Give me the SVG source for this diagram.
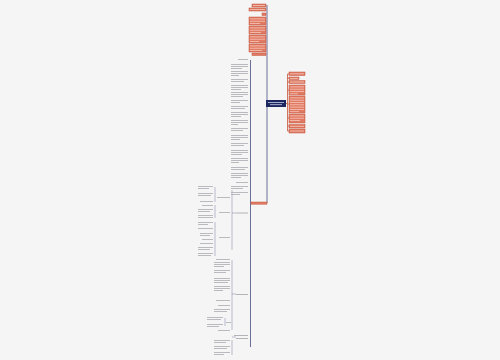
<svg xmlns="http://www.w3.org/2000/svg" width="500" height="360" viewBox="0 0 500 360">
<style>
.bg{fill:#f5f5f5}
.sal{fill:#e07a63;stroke:#c4563f;stroke-width:0.5}
.st{fill:#f7c6b8}
.tx{fill:#b4b4b8}
.wt{fill:#c9cde6}
.con{fill:none;stroke:#6c7099;stroke-width:1}
.conr{fill:none;stroke:#c4563f;stroke-width:0.8}
.cont{fill:none;stroke:#8e92b0;stroke-width:0.6}
</style>
<rect class="bg" x="0" y="0" width="500" height="360"/>
<g id="connectors">
<path class="con" d="M267 100 V5 M267 107 V203"/>
<path class="conr" d="M286 103.5 H287.5 M287.5 74 V131 M287.5 74 H289 M287.5 78 H289 M287.5 82 H289 M287.5 90 H289 M287.5 104 H289 M287.5 118 H289 M287.5 126 H289 M287.5 131 H289"/>
<path class="con" d="M250.5 60 V347 M250.5 203 H251"/>
<path class="cont" d="M232 190 V250 M232 213 H236 M215 187 V202 M215 205 V218 M215 222 V256"/>
<path class="cont" d="M232 260 V330 M232 294 H236 M225 318 V326"/>
<path class="cont" d="M232 340 V355 M232 337 H236"/>
</g>
<g id="center">
<rect x="266" y="100" width="20" height="7" fill="#1e2660"/>
<rect class="wt" x="268" y="102" width="16" height="0.8"/>
<rect class="wt" x="270" y="104.3" width="12" height="0.8"/>
</g>
<g id="right-nodes">
<g id="r1"><rect class="sal" x="289" y="72" width="16" height="3.5"/><rect class="st" x="290" y="73.4" width="14" height="0.8"/></g>
<g id="r2"><rect class="sal" x="289" y="77" width="10" height="2.5"/><rect class="st" x="290" y="77.9" width="8" height="0.8"/></g>
<g id="r3"><rect class="sal" x="289" y="80.5" width="16" height="3"/><rect class="st" x="290" y="81.6" width="14" height="0.8"/></g>
<g id="r4"><rect class="sal" x="289" y="85" width="16" height="10"/><rect class="st" x="290" y="86.5" width="14" height="0.8"/><rect class="st" x="290" y="88.8" width="14" height="0.8"/><rect class="st" x="290" y="91.1" width="14" height="0.8"/><rect class="st" x="290" y="93.4" width="8" height="0.8"/></g>
<g id="r5"><rect class="sal" x="289" y="96" width="16" height="17"/><rect class="st" x="290" y="97.5" width="14" height="0.8"/><rect class="st" x="290" y="99.8" width="14" height="0.8"/><rect class="st" x="290" y="102.1" width="14" height="0.8"/><rect class="st" x="290" y="104.4" width="14" height="0.8"/><rect class="st" x="290" y="106.7" width="14" height="0.8"/><rect class="st" x="290" y="109" width="14" height="0.8"/><rect class="st" x="290" y="111.3" width="9" height="0.8"/></g>
<g id="r6"><rect class="sal" x="289" y="114" width="16" height="9"/><rect class="st" x="290" y="115.5" width="14" height="0.8"/><rect class="st" x="290" y="117.8" width="14" height="0.8"/><rect class="st" x="290" y="120.1" width="10" height="0.8"/></g>
<g id="r7"><rect class="sal" x="289" y="124.5" width="16" height="3.5"/><rect class="st" x="290" y="125.9" width="14" height="0.8"/></g>
<g id="r8"><rect class="sal" x="289" y="129" width="16" height="4"/><rect class="st" x="290" y="130.6" width="14" height="0.8"/></g>
</g>
<g id="top-nodes">
<g id="t1"><rect class="sal" x="252" y="4" width="14" height="3"/><rect class="st" x="253" y="5.1" width="12" height="0.8"/></g>
<g id="t2"><rect class="sal" x="249" y="8" width="17" height="3"/><rect class="st" x="250" y="9.1" width="15" height="0.8"/></g>
<g id="t3"><rect class="sal" x="262" y="13" width="4" height="2.5"/></g>
<g id="t4"><rect class="sal" x="249" y="17" width="17" height="8"/><rect class="st" x="250" y="18.5" width="15" height="0.8"/><rect class="st" x="250" y="20.8" width="15" height="0.8"/><rect class="st" x="250" y="23.1" width="10" height="0.8"/></g>
<g id="t5"><rect class="sal" x="249" y="26" width="17" height="8"/><rect class="st" x="250" y="27.5" width="15" height="0.8"/><rect class="st" x="250" y="29.8" width="15" height="0.8"/><rect class="st" x="250" y="32.1" width="11" height="0.8"/></g>
<g id="t6"><rect class="sal" x="249" y="35" width="17" height="8"/><rect class="st" x="250" y="36.5" width="15" height="0.8"/><rect class="st" x="250" y="38.8" width="15" height="0.8"/><rect class="st" x="250" y="41.1" width="9" height="0.8"/></g>
<g id="t7"><rect class="sal" x="249" y="44" width="17" height="8"/><rect class="st" x="250" y="45.5" width="15" height="0.8"/><rect class="st" x="250" y="47.8" width="15" height="0.8"/><rect class="st" x="250" y="50.1" width="12" height="0.8"/></g>
<g id="t8"><rect class="sal" x="252" y="53" width="14" height="2.5"/></g>
</g>
<g id="node-bar"><rect class="sal" x="251" y="202" width="16" height="2.2"/></g>
<g id="left-column">
<rect class="tx" x="238" y="59" width="10" height="0.9"/>
<rect class="tx" x="231" y="64" width="17" height="0.9"/><rect class="tx" x="231" y="66" width="17" height="0.9"/><rect class="tx" x="231" y="68" width="11" height="0.9"/>
<rect class="tx" x="231" y="71" width="17" height="0.9"/><rect class="tx" x="231" y="73" width="17" height="0.9"/><rect class="tx" x="231" y="75" width="8" height="0.9"/>
<rect class="tx" x="231" y="79" width="17" height="0.9"/><rect class="tx" x="231" y="81" width="13" height="0.9"/>
<rect class="tx" x="231" y="85" width="17" height="0.9"/><rect class="tx" x="231" y="87" width="17" height="0.9"/><rect class="tx" x="231" y="89" width="10" height="0.9"/>
<rect class="tx" x="231" y="92" width="17" height="0.9"/><rect class="tx" x="231" y="94" width="17" height="0.9"/><rect class="tx" x="231" y="96" width="12" height="0.9"/>
<rect class="tx" x="231" y="100" width="17" height="0.9"/><rect class="tx" x="231" y="102" width="9" height="0.9"/>
<rect class="tx" x="231" y="106" width="17" height="0.9"/><rect class="tx" x="231" y="108" width="14" height="0.9"/>
<rect class="tx" x="231" y="112" width="17" height="0.9"/><rect class="tx" x="231" y="114" width="17" height="0.9"/><rect class="tx" x="231" y="116" width="10" height="0.9"/>
<rect class="tx" x="231" y="120" width="17" height="0.9"/><rect class="tx" x="231" y="122" width="17" height="0.9"/><rect class="tx" x="231" y="124" width="7" height="0.9"/>
<rect class="tx" x="231" y="128" width="17" height="0.9"/><rect class="tx" x="231" y="130" width="12" height="0.9"/>
<rect class="tx" x="231" y="135" width="17" height="0.9"/><rect class="tx" x="231" y="137" width="17" height="0.9"/><rect class="tx" x="231" y="139" width="9" height="0.9"/>
<rect class="tx" x="231" y="143" width="17" height="0.9"/><rect class="tx" x="231" y="145" width="13" height="0.9"/>
<rect class="tx" x="231" y="150" width="17" height="0.9"/><rect class="tx" x="231" y="152" width="17" height="0.9"/><rect class="tx" x="231" y="154" width="11" height="0.9"/>
<rect class="tx" x="231" y="158" width="17" height="0.9"/><rect class="tx" x="231" y="160" width="17" height="0.9"/><rect class="tx" x="231" y="162" width="8" height="0.9"/>
<rect class="tx" x="231" y="167" width="17" height="0.9"/><rect class="tx" x="231" y="169" width="14" height="0.9"/>
<rect class="tx" x="231" y="173" width="17" height="0.9"/><rect class="tx" x="231" y="175" width="17" height="0.9"/><rect class="tx" x="231" y="177" width="10" height="0.9"/>
<rect class="tx" x="236" y="182" width="12" height="0.9"/>
<rect class="tx" x="231" y="186" width="17" height="0.9"/><rect class="tx" x="231" y="188" width="12" height="0.9"/>
<rect class="tx" x="231" y="192" width="17" height="0.9"/><rect class="tx" x="231" y="194" width="9" height="0.9"/>
</g>
<g id="sub1">
<rect class="tx" x="236" y="212.5" width="12" height="1"/>
<rect class="tx" x="217" y="197" width="13" height="0.9"/><rect class="tx" x="219" y="212" width="11" height="0.9"/><rect class="tx" x="219" y="237" width="11" height="0.9"/>
<rect class="tx" x="198" y="186" width="15" height="0.9"/><rect class="tx" x="198" y="188" width="11" height="0.9"/>
<rect class="tx" x="198" y="193" width="15" height="0.9"/><rect class="tx" x="198" y="195" width="13" height="0.9"/>
<rect class="tx" x="200" y="201" width="13" height="0.9"/>
<rect class="tx" x="202" y="205" width="11" height="0.9"/>
<rect class="tx" x="198" y="209" width="15" height="0.9"/><rect class="tx" x="198" y="211" width="12" height="0.9"/>
<rect class="tx" x="198" y="215" width="15" height="0.9"/><rect class="tx" x="198" y="217" width="15" height="0.9"/>
<rect class="tx" x="198" y="222" width="15" height="0.9"/><rect class="tx" x="198" y="224" width="10" height="0.9"/>
<rect class="tx" x="198" y="228" width="15" height="0.9"/>
<rect class="tx" x="200" y="233" width="13" height="0.9"/><rect class="tx" x="200" y="235" width="10" height="0.9"/>
<rect class="tx" x="202" y="239" width="11" height="0.9"/>
<rect class="tx" x="200" y="243" width="13" height="0.9"/>
<rect class="tx" x="198" y="247" width="15" height="0.9"/><rect class="tx" x="198" y="249" width="12" height="0.9"/>
<rect class="tx" x="198" y="253" width="15" height="0.9"/><rect class="tx" x="198" y="255" width="13" height="0.9"/>
</g>
<g id="sub2">
<rect class="tx" x="236" y="294" width="12" height="1"/>
<rect class="tx" x="216" y="259" width="14" height="0.9"/>
<rect class="tx" x="214" y="262" width="16" height="0.9"/><rect class="tx" x="214" y="264" width="16" height="0.9"/><rect class="tx" x="214" y="266" width="10" height="0.9"/>
<rect class="tx" x="214" y="270" width="16" height="0.9"/><rect class="tx" x="214" y="272" width="12" height="0.9"/>
<rect class="tx" x="214" y="278" width="16" height="0.9"/><rect class="tx" x="214" y="280" width="16" height="0.9"/><rect class="tx" x="214" y="282" width="14" height="0.9"/>
<rect class="tx" x="214" y="286" width="16" height="0.9"/><rect class="tx" x="214" y="288" width="16" height="0.9"/><rect class="tx" x="214" y="290" width="9" height="0.9"/>
<rect class="tx" x="216" y="300" width="14" height="0.9"/>
<rect class="tx" x="218" y="305" width="12" height="0.9"/>
<rect class="tx" x="214" y="309" width="16" height="0.9"/><rect class="tx" x="214" y="311" width="13" height="0.9"/>
<rect class="tx" x="226" y="322" width="5" height="0.9"/>
<rect class="tx" x="207" y="317" width="16" height="0.9"/><rect class="tx" x="207" y="319" width="14" height="0.9"/>
<rect class="tx" x="207" y="324" width="16" height="0.9"/><rect class="tx" x="207" y="326" width="12" height="0.9"/>
<rect class="tx" x="218" y="330" width="12" height="0.9"/>
</g>
<g id="sub3">
<rect class="tx" x="234" y="335" width="14" height="1"/><rect class="tx" x="236" y="338" width="12" height="1"/>
<rect class="tx" x="214" y="340" width="16" height="0.9"/><rect class="tx" x="214" y="342" width="12" height="0.9"/>
<rect class="tx" x="214" y="346" width="16" height="0.9"/><rect class="tx" x="214" y="348" width="13" height="0.9"/>
<rect class="tx" x="214" y="352" width="16" height="0.9"/><rect class="tx" x="214" y="354" width="10" height="0.9"/>
</g>
</svg>
